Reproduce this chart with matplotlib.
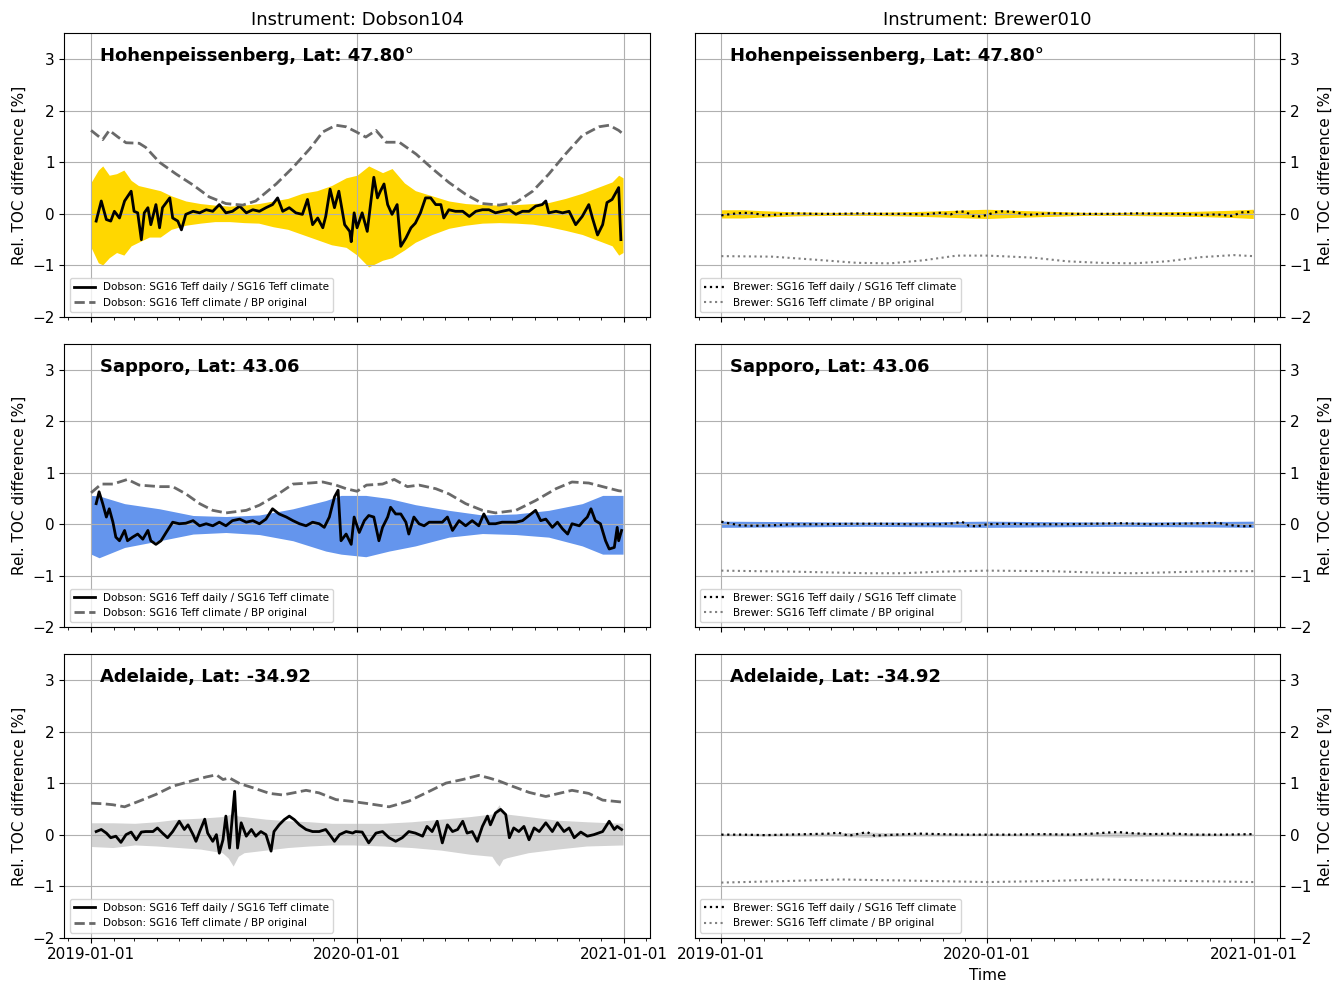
import numpy as np
import matplotlib
matplotlib.use("Agg")
import matplotlib.pyplot as plt
import matplotlib.dates as mdates

plt.rcParams["font.size"] = 11

START = np.datetime64("2019-01-01")

stations = ["Hohenpeissenberg, Lat: 47.80°", "Sapporo, Lat: 43.06", "Adelaide, Lat: -34.92"]
instruments = ["Dobson104", "Brewer010"]
band_colors = ["gold", "cornflowerblue", "lightgray"]

# ---- Hohenpeissenberg, Dobson ----
hp_dob_days = [7, 14, 21, 27, 32, 39, 46, 55, 59, 64, 69, 73, 78, 82, 89, 94, 98, 108, 112, 119,
               124, 130, 140, 149, 158, 167, 176, 185, 194, 204, 213, 222, 231, 240, 249, 256, 263, 272, 281, 290,
               297, 304, 311, 318, 322, 328, 334, 340, 348, 355, 357, 361, 365, 372, 379, 388, 393, 397, 402, 407,
               413, 420, 425, 432, 439, 445, 452, 459, 466, 473, 480, 484, 491, 500, 510, 519, 528, 537, 546, 555,
               564, 574, 583, 592, 601, 610, 619, 624, 628, 638, 647, 656, 665, 674, 683, 688, 695, 702, 708, 715,
               724, 727]
hp_dob_daily = [-0.14, 0.25, -0.11, -0.14, 0.05, -0.08, 0.25, 0.44, 0.05, 0.02, -0.50, 0.02, 0.12, -0.21, 0.18, -0.27, 0.12, 0.31, -0.08, -0.14,
                -0.31, -0.01, 0.05, 0.02, 0.08, 0.05, 0.18, 0.02, 0.05, 0.15, 0.02, 0.08, 0.05, 0.12, 0.18, 0.31, 0.05, 0.12, 0.02, -0.01,
                0.28, -0.21, -0.08, -0.27, -0.05, 0.48, 0.12, 0.44, -0.21, -0.34, -0.54, 0.02, -0.27, 0.02, -0.34, 0.71, 0.31, 0.44, 0.58, 0.18,
                -0.01, 0.18, -0.63, -0.47, -0.27, -0.18, 0.02, 0.31, 0.31, 0.18, 0.18, -0.08, 0.08, 0.05, 0.05, -0.05, 0.05, 0.08, 0.08, 0.02,
                0.05, 0.08, -0.01, 0.05, 0.05, 0.15, 0.18, 0.25, 0.02, 0.05, 0.02, 0.05, -0.21, -0.05, 0.18, -0.08, -0.41, -0.21, 0.22, 0.28,
                0.51, -0.50]
hp_dob_clim_days = [0, 16, 25, 37, 48, 66, 75, 94, 117, 140, 162, 185, 208, 226, 254, 277, 300, 318, 336, 350,
                    364, 377, 391, 405, 423, 446, 469, 491, 514, 537, 560, 583, 606, 628, 651, 674, 697, 711, 724, 730]
hp_dob_clim = [1.62, 1.44, 1.62, 1.49, 1.38, 1.37, 1.29, 1.00, 0.77, 0.56, 0.33, 0.20, 0.17, 0.25, 0.58, 0.90, 1.26, 1.59, 1.72, 1.69,
               1.59, 1.49, 1.62, 1.39, 1.39, 1.16, 0.87, 0.61, 0.38, 0.20, 0.17, 0.22, 0.44, 0.77, 1.16, 1.52, 1.69, 1.72, 1.62, 1.55]
hp_dob_band_days = [0, 10, 16, 25, 35, 45, 55, 65, 80, 95, 110, 130, 150, 170, 190, 210, 230, 250, 270, 290, 310, 330,
                    350, 365, 381, 400, 413, 430, 445, 468, 491, 514, 537, 560, 583, 606, 628, 651, 674, 702, 715, 724, 730]
hp_dob_band_hi = [0.61, 0.85, 0.93, 0.75, 0.78, 0.85, 0.65, 0.55, 0.50, 0.45, 0.35, 0.25, 0.20, 0.17, 0.15, 0.17, 0.20, 0.25, 0.30, 0.40, 0.45, 0.55,
                  0.70, 0.75, 0.93, 0.80, 0.88, 0.60, 0.45, 0.35, 0.25, 0.20, 0.18, 0.17, 0.18, 0.20, 0.22, 0.30, 0.40, 0.55, 0.62, 0.75, 0.70]
hp_dob_band_lo = [-0.65, -0.95, -0.99, -0.85, -0.75, -0.80, -0.62, -0.55, -0.45, -0.45, -0.30, -0.22, -0.18, -0.15, -0.15, -0.17, -0.18, -0.25, -0.30, -0.40, -0.50, -0.60,
                  -0.65, -0.80, -1.03, -0.90, -0.85, -0.70, -0.55, -0.40, -0.28, -0.22, -0.18, -0.17, -0.18, -0.20, -0.25, -0.32, -0.40, -0.55, -0.62, -0.80, -0.75]

# ---- Sapporo, Dobson ----
sa_dob_days = [7, 11, 16, 21, 25, 30, 34, 39, 46, 50, 57, 64, 71, 78, 82, 89, 96, 103, 112, 121,
               130, 140, 149, 158, 167, 176, 185, 194, 204, 213, 222, 231, 240, 249, 258, 268, 277, 286, 295, 304,
               313, 320, 327, 334, 339, 343, 350, 357, 361, 368, 375, 381, 388, 395, 400, 407, 411, 418, 425, 432,
               436, 443, 450, 457, 464, 473, 482, 489, 496, 505, 514, 523, 532, 539, 546, 555, 564, 574, 583, 592,
               601, 610, 617, 624, 633, 640, 647, 654, 660, 670, 676, 681, 686, 692, 699, 706, 711, 718, 722, 724,
               728]
sa_dob_daily = [0.40, 0.63, 0.40, 0.14, 0.30, 0.04, -0.25, -0.32, -0.12, -0.32, -0.25, -0.19, -0.29, -0.12, -0.32, -0.39, -0.32, -0.16, 0.04, 0.01,
                0.02, 0.07, -0.03, 0.01, -0.03, 0.04, -0.03, 0.07, 0.10, 0.04, 0.07, 0.01, 0.10, 0.30, 0.20, 0.14, 0.07, 0.01, -0.03, 0.04,
                0.01, -0.06, 0.14, 0.53, 0.66, -0.32, -0.19, -0.39, 0.14, -0.16, 0.07, 0.17, 0.14, -0.32, -0.06, 0.14, 0.33, 0.20, 0.20, 0.04,
                -0.19, 0.14, 0.01, -0.03, 0.04, 0.04, 0.04, 0.14, -0.12, 0.07, -0.03, 0.07, -0.03, 0.20, 0.01, 0.01, 0.04, 0.04, 0.04, 0.07,
                0.17, 0.27, 0.07, 0.10, -0.06, 0.04, -0.09, -0.19, 0.01, -0.03, 0.07, 0.14, 0.30, 0.07, 0.01, -0.32, -0.48, -0.45, -0.06, -0.32,
                -0.12]
sa_dob_clim_days = [0, 14, 30, 50, 66, 94, 112, 130, 149, 167, 185, 213, 231, 254, 277, 300, 318, 336, 350, 365,
                    378, 400, 416, 434, 450, 473, 491, 514, 537, 555, 583, 610, 638, 660, 683, 702, 724, 730]
sa_dob_clim = [0.61, 0.78, 0.78, 0.87, 0.76, 0.73, 0.73, 0.59, 0.40, 0.27, 0.22, 0.27, 0.37, 0.56, 0.78, 0.80, 0.82, 0.76, 0.69, 0.64,
               0.76, 0.78, 0.87, 0.73, 0.76, 0.69, 0.59, 0.40, 0.27, 0.22, 0.27, 0.46, 0.69, 0.82, 0.80, 0.73, 0.65, 0.64]
sa_dob_band_days = [0, 11, 46, 94, 140, 185, 231, 277, 322, 343, 377, 409, 445, 491, 537, 583, 628, 674, 702, 730]
sa_dob_band_hi = [0.56, 0.55, 0.40, 0.30, 0.17, 0.15, 0.18, 0.30, 0.46, 0.56, 0.56, 0.50, 0.38, 0.27, 0.18, 0.20, 0.27, 0.40, 0.56, 0.56]
sa_dob_band_lo = [-0.58, -0.65, -0.45, -0.32, -0.19, -0.16, -0.20, -0.32, -0.52, -0.58, -0.63, -0.52, -0.42, -0.25, -0.18, -0.20, -0.25, -0.42, -0.58, -0.58]

# ---- Adelaide, Dobson ----
ad_dob_days = [7, 14, 21, 27, 34, 41, 48, 55, 62, 69, 75, 85, 91, 98, 105, 112, 121, 128, 133, 140,
               144, 149, 156, 160, 167, 172, 176, 181, 185, 190, 197, 201, 206, 213, 220, 226, 233, 240, 247, 251,
               258, 265, 272, 279, 286, 295, 304, 313, 322, 329, 334, 341, 350, 359, 363, 372, 381, 391, 400, 409,
               418, 427, 436, 445, 455, 461, 468, 475, 482, 489, 496, 503, 510, 516, 523, 530, 537, 544, 548, 555,
               562, 569, 574, 580, 587, 594, 601, 608, 615, 624, 633, 640, 649, 656, 663, 672, 681, 690, 702, 711,
               718, 722, 728]
ad_dob_daily = [0.06, 0.10, 0.03, -0.06, -0.03, -0.15, 0.00, 0.05, -0.10, 0.05, 0.06, 0.06, 0.13, 0.03, -0.06, 0.06, 0.26, 0.10, 0.19, 0.00,
                -0.13, 0.06, 0.30, 0.03, -0.13, 0.00, -0.36, -0.10, 0.36, -0.26, 0.84, -0.26, 0.23, -0.03, 0.10, -0.03, 0.06, 0.00, -0.32, 0.06,
                0.19, 0.29, 0.36, 0.29, 0.19, 0.10, 0.06, 0.06, 0.10, -0.03, -0.13, 0.00, 0.06, 0.03, 0.06, 0.05, -0.16, 0.03, 0.06, -0.06,
                -0.13, -0.06, 0.06, 0.03, -0.03, 0.16, 0.06, 0.26, -0.16, 0.19, 0.06, 0.10, 0.26, 0.03, 0.06, -0.13, 0.16, 0.36, 0.19, 0.42,
                0.49, 0.39, -0.06, 0.13, 0.06, 0.16, -0.10, 0.13, 0.06, 0.23, 0.06, 0.23, 0.06, 0.13, -0.06, 0.05, -0.03, 0.00, 0.06, 0.26,
                0.10, 0.16, 0.10]
ad_dob_clim_days = [0, 16, 30, 46, 66, 89, 112, 140, 158, 172, 181, 190, 204, 222, 245, 263, 281, 295, 313, 336,
                    355, 381, 409, 436, 464, 487, 510, 532, 546, 560, 578, 601, 624, 642, 660, 683, 702, 730]
ad_dob_clim = [0.61, 0.60, 0.58, 0.54, 0.65, 0.78, 0.94, 1.05, 1.12, 1.16, 1.07, 1.10, 0.99, 0.91, 0.80, 0.77, 0.82, 0.86, 0.81, 0.68,
               0.65, 0.60, 0.54, 0.65, 0.84, 1.00, 1.07, 1.15, 1.10, 1.04, 0.94, 0.82, 0.74, 0.80, 0.86, 0.80, 0.67, 0.63]
ad_dob_band_days = [0, 30, 60, 90, 120, 150, 180, 188, 195, 202, 210, 240, 270, 300, 330, 360, 400, 440, 480, 520,
                    550, 556, 560, 565, 570, 600, 640, 680, 730]
ad_dob_band_hi = [0.23, 0.23, 0.22, 0.25, 0.30, 0.32, 0.35, 0.38, 0.42, 0.36, 0.35, 0.30, 0.27, 0.25, 0.22, 0.22, 0.22, 0.25, 0.30, 0.35,
                  0.40, 0.50, 0.58, 0.45, 0.40, 0.35, 0.28, 0.25, 0.22]
ad_dob_band_lo = [-0.23, -0.25, -0.20, -0.22, -0.25, -0.28, -0.35, -0.45, -0.61, -0.42, -0.35, -0.30, -0.25, -0.22, -0.20, -0.20, -0.22, -0.25, -0.30, -0.38,
                  -0.42, -0.55, -0.61, -0.48, -0.45, -0.35, -0.28, -0.22, -0.20]

# ---- Brewer (all three stations) ----
hp_bre_days = [0, 15, 30, 45, 60, 80, 100, 130, 160, 190, 220, 250, 280, 300, 315, 325, 335, 345, 355, 365,
               375, 385, 400, 420, 450, 480, 510, 540, 570, 600, 630, 660, 680, 700, 715, 730]
hp_bre_daily = [-0.03, 0.0, 0.02, 0.01, -0.03, -0.01, 0.01, 0.0, 0.0, 0.01, 0.0, 0.0, -0.01, 0.02, -0.01, 0.05, 0.04, -0.04, -0.05, -0.02,
                0.03, 0.05, 0.04, -0.02, 0.01, 0.0, 0.0, 0.0, 0.01, 0.0, 0.0, -0.02, -0.01, -0.04, 0.03, 0.04]
hp_bre_clim_days = [0, 70, 120, 186, 232, 278, 323, 365, 383, 428, 474, 520, 566, 612, 658, 703, 730]
hp_bre_clim = [-0.82, -0.83, -0.88, -0.95, -0.96, -0.90, -0.81, -0.81, -0.82, -0.85, -0.92, -0.95, -0.96, -0.92, -0.84, -0.80, -0.82]
hp_bre_band_days = [0, 30, 60, 100, 150, 200, 250, 300, 340, 365, 400, 450, 500, 550, 600, 650, 700, 730]
hp_bre_band_hw = [0.08, 0.08, 0.06, 0.04, 0.03, 0.03, 0.04, 0.06, 0.08, 0.09, 0.07, 0.05, 0.03, 0.03, 0.04, 0.05, 0.07, 0.09]

sa_bre_days = [0, 10, 25, 45, 70, 100, 140, 180, 220, 260, 300, 320, 330, 340, 350, 365, 390, 430, 470, 510,
               550, 590, 630, 660, 680, 700, 715, 730]
sa_bre_daily = [0.05, 0.02, -0.02, -0.03, -0.02, 0.0, 0.0, 0.01, 0.01, 0.0, 0.0, 0.02, 0.05, -0.03, -0.04, 0.0, 0.01, 0.0, 0.0, 0.01,
                0.02, 0.0, 0.01, 0.02, 0.03, -0.02, -0.04, -0.03]
sa_bre_clim_days = [0, 100, 200, 250, 300, 365, 450, 520, 566, 620, 680, 730]
sa_bre_clim = [-0.90, -0.92, -0.95, -0.95, -0.92, -0.90, -0.91, -0.94, -0.95, -0.93, -0.91, -0.91]
sa_bre_band_days = [0, 100, 200, 300, 365, 450, 550, 650, 730]
sa_bre_band_hw = [0.06, 0.05, 0.04, 0.05, 0.06, 0.05, 0.04, 0.05, 0.06]

ad_bre_days = [0, 30, 60, 90, 120, 150, 160, 175, 190, 200, 210, 240, 270, 300, 330, 365, 400, 440, 480, 510,
               530, 545, 560, 590, 620, 650, 690, 730]
ad_bre_daily = [0.0, 0.0, -0.01, 0.0, 0.01, 0.02, 0.04, -0.02, 0.02, 0.05, -0.02, 0.0, 0.02, 0.01, 0.0, 0.0, 0.0, 0.01, 0.0, 0.02,
                0.04, 0.05, 0.03, 0.01, 0.02, 0.0, 0.0, 0.01]
ad_bre_clim_days = [0, 90, 163, 250, 365, 450, 520, 600, 730]
ad_bre_clim = [-0.93, -0.90, -0.87, -0.89, -0.92, -0.90, -0.87, -0.89, -0.92]
ad_bre_band_days = [0, 150, 200, 250, 365, 500, 545, 600, 730]
ad_bre_band_hw = [0.02, 0.03, 0.05, 0.03, 0.02, 0.03, 0.05, 0.03, 0.02]


def to_dates(days):
    return START + np.array(days).astype("timedelta64[D]")


dobson = [
    (hp_dob_days, hp_dob_daily, hp_dob_clim_days, hp_dob_clim, hp_dob_band_days, hp_dob_band_hi, hp_dob_band_lo),
    (sa_dob_days, sa_dob_daily, sa_dob_clim_days, sa_dob_clim, sa_dob_band_days, sa_dob_band_hi, sa_dob_band_lo),
    (ad_dob_days, ad_dob_daily, ad_dob_clim_days, ad_dob_clim, ad_dob_band_days, ad_dob_band_hi, ad_dob_band_lo),
]
brewer = [
    (hp_bre_days, hp_bre_daily, hp_bre_clim_days, hp_bre_clim, hp_bre_band_days, hp_bre_band_hw),
    (sa_bre_days, sa_bre_daily, sa_bre_clim_days, sa_bre_clim, sa_bre_band_days, sa_bre_band_hw),
    (ad_bre_days, ad_bre_daily, ad_bre_clim_days, ad_bre_clim, ad_bre_band_days, ad_bre_band_hw),
]

fig, axes = plt.subplots(3, 2, figsize=(13.43, 9.85), dpi=100, sharex=True, sharey=True)
fig.subplots_adjust(left=0.048, right=0.953, top=0.966, bottom=0.048, wspace=0.077, hspace=0.095)

for i in range(3):
    # Dobson column
    ax = axes[i, 0]
    d, v, cd, cv, bd, bhi, blo = dobson[i]
    ax.fill_between(to_dates(bd), blo, bhi, color=band_colors[i], lw=0)
    ax.plot(to_dates(d), v, color="black", lw=2, label="Dobson: SG16 Teff daily / SG16 Teff climate")
    ax.plot(to_dates(cd), cv, color="dimgray", ls="--", lw=2, label="Dobson: SG16 Teff climate / BP original")
    ax.legend(loc="lower left", fontsize=7.5)
    ax.set_ylabel("Rel. TOC difference [%]")

    # Brewer column
    ax = axes[i, 1]
    d, v, cd, cv, bd, bhw = brewer[i]
    hw = np.array(bhw)
    ax.fill_between(to_dates(bd), -hw, hw, color=band_colors[i], lw=0)
    ax.plot(to_dates(d), v, color="black", ls=":", lw=1.6, label="Brewer: SG16 Teff daily / SG16 Teff climate")
    ax.plot(to_dates(cd), cv, color="gray", ls=":", lw=1.5, label="Brewer: SG16 Teff climate / BP original")
    ax.legend(loc="lower left", fontsize=7.5)
    ax.yaxis.tick_right()
    ax.yaxis.set_label_position("right")
    ax.set_ylabel("Rel. TOC difference [%]")
    ax.tick_params(axis="y", labelright=True)

    for ax in axes[i]:
        ax.text(0.06, 0.92, stations[i], transform=ax.transAxes, fontsize=13,
                fontweight="bold", va="center", ha="left")
        ax.grid(True, which="major")

for j, name in enumerate(instruments):
    axes[0, j].set_title(f"Instrument: {name}", fontsize=13)

ax = axes[2, 0]
ax.set_ylim(-2, 3.5)
ax.set_yticks([-2, -1, 0, 1, 2, 3])
ax.xaxis.set_major_locator(mdates.YearLocator())
ax.xaxis.set_minor_locator(mdates.MonthLocator())
ax.xaxis.set_major_formatter(mdates.DateFormatter("%Y-%m-%d"))
axes[2, 1].set_xlabel("Time")

fig.savefig("out.png", dpi=100)
